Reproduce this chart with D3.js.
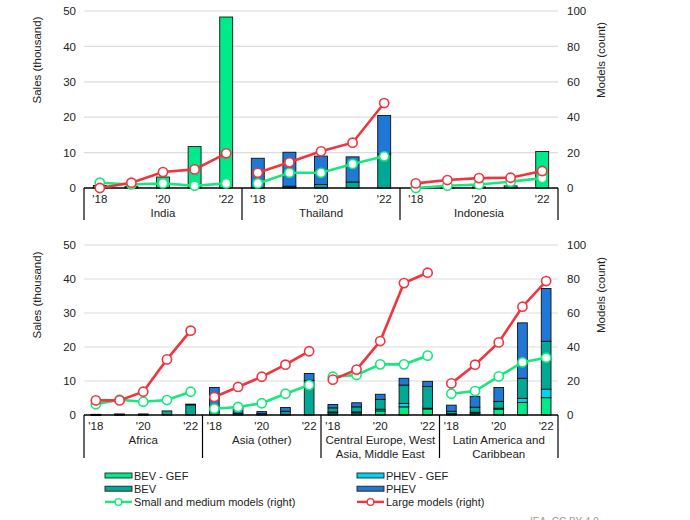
<!DOCTYPE html>
<html>
<head>
<meta charset="utf-8">
<script src="https://cdn.jsdelivr.net/npm/d3@7"></script>
<style>
  body { margin: 0; background: #fff; }
  svg { font-family: "Liberation Sans", Arial, sans-serif; }
</style>
</head>
<body>
<svg id="chart" width="690" height="520"></svg>
<script>
// --- data ---
const years = ["'18", "'19", "'20", "'21", "'22"];
const yearLabels = ["'18", "'20", "'22"];
const regions = ["India", "Thailand", "Indonesia", "Africa", "Asia (other)",
  "Central Europe, West Asia, Middle East", "Latin America and Caribbean"];
const regionLines = [["India"], ["Thailand"], ["Indonesia"], ["Africa"], ["Asia (other)"],
  ["Central Europe, West", "Asia, Middle East"], ["Latin America and", "Caribbean"]];
const topRegions = [0, 1, 2];
const bottomRegions = [3, 4, 5, 6];

// sales, thousand (stack order bottom to top)
const bevGef = [
  [0.7, 0.4, 3.1, 11.7, 48.3], [0, 0, 0, 0, 0], [0, 0.1, 0, 0.6, 10.3],
  [0, 0, 0, 0, 0], [0, 0, 0, 0.2, 0], [0.6, 0.6, 1.2, 2.4, 1.8], [0.3, 0.5, 1.7, 3.7, 5.1]];
const phevGef = [
  [0, 0, 0, 0, 0], [0, 0, 0, 0, 0], [0, 0, 0, 0, 0],
  [0, 0, 0, 0, 0], [0, 0, 0, 0, 0], [0.3, 0.3, 0.5, 1.0, 0.2], [0.1, 0.3, 0.3, 1.2, 2.5]];
const bev = [
  [0, 0, 0, 0, 0], [0, 0.5, 1.0, 1.7, 9.6], [0, 0, 0.3, 0, 0],
  [0.1, 0.2, 0.2, 1.2, 3.0], [1.0, 0.5, 0.4, 0.9, 10.2], [1.2, 1.5, 2.9, 5.4, 6.4], [0.7, 1.5, 2.0, 5.9, 14.1]];
const phev = [
  [0, 0, 0, 0, 0], [8.4, 9.6, 8.0, 7.1, 10.9], [0, 0, 0, 0, 0],
  [0.1, 0.1, 0.1, 0, 0.2], [7.1, 2.0, 0.6, 1.1, 2.0], [1.0, 1.2, 1.5, 2.0, 1.5], [1.8, 3.2, 4.1, 16.3, 15.5]];
// models, count (right axis)
const smallModels = [
  [3, 2, 2.6, 1.3, 2.6], [2.6, 8.6, 8.6, 13.6, 17.9], [0, 1.3, 2, 3.6, 5.6],
  [6.3, 9, 7.8, 8.8, 13.7], [3.7, 4.7, 6.9, 12.5, 17.6], [22.5, 23.5, 29.8, 29.8, 34.9], [12.5, 14.1, 22.7, 31, 33.7]];
const largeModels = [
  [0, 3, 9, 10.5, 19.6], [8.6, 14.5, 20.7, 25.6, 48], [2.6, 4.5, 5.6, 5.8, 9.6],
  [8.6, 8.6, 13.7, 32.7, 49.6], [10.6, 16.5, 22.5, 29.6, 37.5], [20.8, 26.7, 43.5, 77.6, 83.7], [18.6, 29.6, 42.7, 63.7, 78.8]];

const salesTicks = [0, 10, 20, 30, 40, 50];
const modelTicks = [0, 20, 40, 60, 80, 100];

const stackKeys = ["BEV - GEF", "PHEV - GEF", "BEV", "PHEV"];
const stackSource = [bevGef, phevGef, bev, phev];
const COLORS = {
  "BEV - GEF": "#00ea8a",
  "PHEV - GEF": "#00d2f2",
  "BEV": "#00a896",
  "PHEV": "#1f78d6",
  "small": "#16e87c",
  "large": "#f0353f",
};

const svg = d3.select("#chart");
const X0 = 84, X1 = 558;

function drawPanel(regionIdx, top, bottom, sepBottom, titleY) {
  const g = svg.append("g");
  const y = d3.scaleLinear().domain([0, 50]).range([bottom, top]);
  const y2 = d3.scaleLinear().domain([0, 100]).range([bottom, top]);
  const xGroup = d3.scaleBand().domain(regionIdx).range([X0, X1]).padding(0);
  const xYear = d3.scaleBand().domain(years).range([0, xGroup.bandwidth()]).padding(0);
  const barW = xYear.step() * 0.41;
  const cx = (r, yr) => xGroup(r) + xYear(yr) + xYear.bandwidth() / 2;

  // gridlines
  g.append("g").selectAll("line").data(salesTicks.slice(1)).join("line")
    .attr("x1", X0).attr("x2", X1)
    .attr("y1", d => y(d)).attr("y2", d => y(d))
    .attr("stroke", "#dcdcdc").attr("stroke-width", 1.2);

  // left axis
  const la = g.append("g").attr("transform", `translate(${X0 - 8},0)`)
    .call(d3.axisLeft(y).tickValues(salesTicks).tickSize(0).tickPadding(0));
  la.select(".domain").remove();
  la.selectAll("text").attr("font-size", 11.5).attr("fill", "#222").attr("font-family", "Liberation Sans, Arial");

  // right axis
  const ra = g.append("g").attr("transform", `translate(${X1 + 9},0)`)
    .call(d3.axisRight(y2).tickValues(modelTicks).tickSize(0).tickPadding(0));
  ra.select(".domain").remove();
  ra.selectAll("text").attr("font-size", 11.5).attr("fill", "#222").attr("font-family", "Liberation Sans, Arial");

  g.append("text").attr("transform", `translate(41,${titleY}) rotate(-90)`)
    .attr("text-anchor", "middle").attr("font-size", 11.5).attr("fill", "#222")
    .text("Sales (thousand)");
  g.append("text").attr("transform", `translate(605,${titleY}) rotate(-90)`)
    .attr("text-anchor", "middle").attr("font-size", 11.5).attr("fill", "#222")
    .text("Models (count)");

  // stacked bars
  regionIdx.forEach(r => {
    const rows = years.map((yr, i) => {
      const o = { year: yr };
      stackKeys.forEach((k, j) => { o[k] = stackSource[j][r][i]; });
      return o;
    });
    const series = d3.stack().keys(stackKeys)(rows);
    series.forEach(s => {
      g.append("g").selectAll("rect").data(s.filter(d => d[1] - d[0] > 0)).join("rect")
        .attr("x", d => cx(r, d.data.year) - barW / 2)
        .attr("y", d => y(d[1]))
        .attr("width", barW)
        .attr("height", d => Math.max(0.8, y(d[0]) - y(d[1])))
        .attr("fill", COLORS[s.key])
        .attr("stroke", "#111").attr("stroke-width", 0.9);
    });
  });

  // zero line and category separators
  g.append("line").attr("x1", X0).attr("x2", X1).attr("y1", bottom).attr("y2", bottom)
    .attr("stroke", "#000").attr("stroke-width", 1.3);
  const seps = regionIdx.map(r => xGroup(r)).concat([X1]);
  g.append("g").selectAll("line").data(seps).join("line")
    .attr("x1", d => d).attr("x2", d => d).attr("y1", bottom).attr("y2", sepBottom)
    .attr("stroke", "#000").attr("stroke-width", 1.2);

  // year labels and region names
  regionIdx.forEach(r => {
    g.append("g").selectAll("text").data(yearLabels).join("text")
      .attr("x", d => cx(r, d)).attr("y", bottom + 15)
      .attr("text-anchor", "middle").attr("font-size", 11.5).attr("fill", "#222")
      .text(d => d);
    g.append("g").selectAll("text").data(regionLines[r]).join("text")
      .attr("x", xGroup(r) + xGroup.bandwidth() / 2)
      .attr("y", (d, i) => bottom + 29 + i * 13.5)
      .attr("text-anchor", "middle").attr("font-size", 11.5).attr("fill", "#222")
      .text(d => d);
  });

  // model count lines
  const line = d3.line().x(d => d.x).y(d => d.y);
  [["small", smallModels], ["large", largeModels]].forEach(([key, src]) => {
    regionIdx.forEach(r => {
      const pts = years.map((yr, i) => ({ x: cx(r, yr), y: y2(src[r][i]) }));
      g.append("path").attr("d", line(pts)).attr("fill", "none")
        .attr("stroke", COLORS[key]).attr("stroke-width", 2.6);
      g.append("g").selectAll("circle").data(pts).join("circle")
        .attr("cx", d => d.x).attr("cy", d => d.y).attr("r", 4.6)
        .attr("fill", "#fff").attr("stroke", COLORS[key]).attr("stroke-width", 1.6);
    });
  });
}

drawPanel(topRegions, 11, 188, 220, 60);
drawPanel(bottomRegions, 245, 415, 458, 295);

// legend
const legendItems = [
  { label: "BEV - GEF", key: "BEV - GEF", type: "rect", col: 0, row: 0 },
  { label: "PHEV - GEF", key: "PHEV - GEF", type: "rect", col: 1, row: 0 },
  { label: "BEV", key: "BEV", type: "rect", col: 0, row: 1 },
  { label: "PHEV", key: "PHEV", type: "rect", col: 1, row: 1 },
  { label: "Small and medium models (right)", key: "small", type: "line", col: 0, row: 2 },
  { label: "Large models (right)", key: "large", type: "line", col: 1, row: 2 },
];
const lg = svg.append("g");
legendItems.forEach(it => {
  const x = it.col === 0 ? 105 : 357;
  const yc = 475.5 + it.row * 13.2;
  if (it.type === "rect") {
    lg.append("rect").attr("x", x).attr("y", yc - 2.5).attr("width", 27).attr("height", 5)
      .attr("fill", COLORS[it.key]).attr("stroke", "#222").attr("stroke-width", 0.9);
  } else {
    lg.append("line").attr("x1", x).attr("x2", x + 27).attr("y1", yc).attr("y2", yc)
      .attr("stroke", COLORS[it.key]).attr("stroke-width", 2.4);
    lg.append("circle").attr("cx", x + 13.5).attr("cy", yc).attr("r", 3.3)
      .attr("fill", "#fff").attr("stroke", COLORS[it.key]).attr("stroke-width", 1.4);
  }
  lg.append("text").attr("x", x + 29).attr("y", yc + 4).attr("font-size", 11).attr("fill", "#222")
    .text(it.label);
});

svg.append("text").attr("x", 530).attr("y", 525).attr("font-size", 10).attr("fill", "#9a9a9a")
  .text("IEA. CC BY 4.0.");
</script>
</body>
</html>
